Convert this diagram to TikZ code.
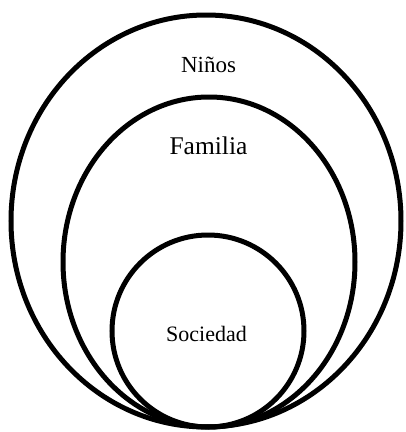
\documentclass[tikz,border=0pt]{standalone}
\usepackage{fontspec}
\setmainfont{Liberation Serif}
\begin{document}
\begin{tikzpicture}[x=1pt,y=-1pt,ring/.style={draw=black,line width=5pt},
  every node/.style={anchor=base,inner sep=0pt}]
  \useasboundingbox (0,0) rectangle (406,432);
  % Círculos
  \draw[ring] (206,221) ellipse [x radius=195pt, y radius=206pt];
  \draw[ring] (209,262) ellipse [x radius=146pt, y radius=165pt];
  \draw[ring] (208,331) ellipse [x radius=96pt, y radius=96pt];

  % Textos
  \node (ninos) at (208.5,72.7) {\fontsize{23pt}{27pt}\selectfont Niños};
  \node (familia) at (208.5,154) {\fontsize{25.5pt}{30pt}\selectfont Familia};
  \node (sociedad) at (206.5,341) {\fontsize{22pt}{26pt}\selectfont Sociedad};
\end{tikzpicture}
\end{document}
